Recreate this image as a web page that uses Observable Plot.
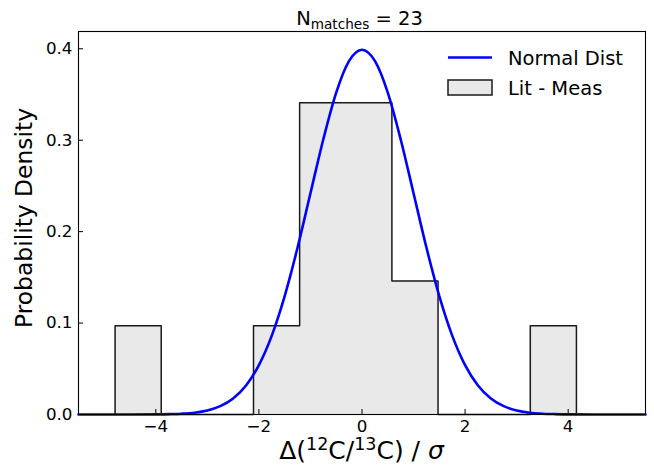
<!DOCTYPE html>
<html><head><meta charset="utf-8">
<script src="https://cdn.jsdelivr.net/npm/d3@7"></script>
<script src="https://cdn.jsdelivr.net/npm/@observablehq/plot@0.6"></script>
<style>body{margin:0;background:#fff} svg{display:block}</style>
</head><body><div id="chart"></div>
<script>
// Histogram (stepfilled, density)
const binEdges = [-4.79, -3.895, -3.0, -2.105, -1.21, -0.315, 0.58, 1.475, 2.37, 3.265, 4.16];
const binDensity = [0.097, 0, 0, 0.097, 0.341, 0.341, 0.146, 0, 0, 0.097];
const curveX = [-5.5, -5, -4.5, -4, -3.75, -3.5, -3.25, -3, -2.75, -2.5, -2.25, -2, -1.75, -1.5, -1.25, -1, -0.75, -0.5, -0.25, 0,
                0.25, 0.5, 0.75, 1, 1.25, 1.5, 1.75, 2, 2.25, 2.5, 2.75, 3, 3.25, 3.5, 3.75, 4, 4.5, 5, 5.5];
const curveY = [0, 0, 0, 0.0001, 0.0004, 0.0009, 0.0020, 0.0044, 0.0091, 0.0175, 0.0317, 0.0540, 0.0863, 0.1295, 0.1826, 0.2420, 0.3011, 0.3521, 0.3867, 0.3989,
                0.3867, 0.3521, 0.3011, 0.2420, 0.1826, 0.1295, 0.0863, 0.0540, 0.0317, 0.0175, 0.0091, 0.0044, 0.0020, 0.0009, 0.0004, 0.0001, 0, 0, 0];
const xTicks = [-4, -2, 0, 2, 4];
const yTicks = [0, 0.1, 0.2, 0.3, 0.4];
const seriesNames = ["Normal Dist", "Lit - Meas"];
const nMatches = 23;

const W = 654, H = 466, mL = 78, mR = 9, mT = 31, mB = 52;
const innerW = W - mL - mR, innerH = H - mT - mB;

const stepPts = [{x: binEdges[0], y: 0}]
  .concat(binDensity.map((d, i) => ({x: binEdges[i], y: d})))
  .concat([{x: binEdges[binEdges.length - 1], y: 0}]);
const curve = curveX.map((x, i) => ({x, y: curveY[i]}));

const svg = Plot.plot({
  width: W, height: H,
  marginLeft: mL, marginRight: mR, marginTop: mT, marginBottom: mB,
  style: {fontFamily: "DejaVu Sans", fontSize: "16px", color: "#000", background: "#fff"},
  x: {domain: [-5.5, 5.5]},
  y: {domain: [0, 0.4189]},
  marks: [
    Plot.areaY(stepPts, {x: "x", y: "y", curve: "step-after", fill: "#e9e9e9"}),
    Plot.lineY(stepPts, {x: "x", y: "y", curve: "step-after", stroke: "#1a1a1a", strokeWidth: 1.5}),
    Plot.lineY(curve, {x: "x", y: "y", curve: "monotone-x", stroke: "#0000ff", strokeWidth: 2.6}),
    Plot.frame({stroke: "#000", strokeWidth: 1.1}),
    Plot.tickX(xTicks, {x: d => d, insetTop: innerH - 5, stroke: "#000"}),
    Plot.tickY(yTicks, {y: d => d, insetRight: innerW - 5, stroke: "#000"}),
    Plot.axisX(xTicks, {tickSize: 0, tickPadding: 6, fontSize: 16.7, label: null}),
    Plot.axisY(yTicks, {tickSize: 0, tickPadding: 6, fontSize: 16.7, label: null, tickFormat: d3.format(".1f")})
  ]
});
document.getElementById("chart").appendChild(svg);

const s = d3.select(svg);
const ff = "DejaVu Sans";
// Title
const t = s.append("text").attr("x", mL + innerW / 2 - 2).attr("y", 25).attr("text-anchor", "middle")
  .attr("font-family", ff).attr("font-size", 19.5).attr("fill", "#000");
t.append("tspan").text("N");
t.append("tspan").attr("font-size", 13.6).attr("dy", 4).text("matches");
t.append("tspan").attr("dy", -4).text(" = " + nMatches);
// X label
const xl = s.append("text").attr("x", mL + innerW / 2).attr("y", 459).attr("text-anchor", "middle")
  .attr("font-family", ff).attr("font-size", 25).attr("fill", "#000");
xl.append("tspan").text("Δ(");
xl.append("tspan").attr("font-size", 17.5).attr("dy", -9).text("12");
xl.append("tspan").attr("dy", 9).text("C/");
xl.append("tspan").attr("font-size", 17.5).attr("dy", -9).text("13");
xl.append("tspan").attr("dy", 9).text("C) / ");
xl.append("tspan").attr("font-style", "italic").text("σ");
// Y label
s.append("text").attr("transform", `translate(32,218) rotate(-90)`).attr("text-anchor", "middle")
  .attr("font-family", ff).attr("font-size", 23.4).attr("fill", "#000").text("Probability Density");
// Legend
const lg = s.append("g").attr("font-family", ff).attr("font-size", 19.5).attr("fill", "#000").attr("text-anchor", "start");
lg.append("line").attr("x1", 448).attr("x2", 492).attr("y1", 57.5).attr("y2", 57.5).attr("stroke", "#0000ff").attr("stroke-width", 2.6);
lg.append("text").attr("x", 508).attr("y", 65).attr("text-anchor", "start").text(seriesNames[0]);
lg.append("rect").attr("x", 448).attr("y", 80).attr("width", 44).attr("height", 15).attr("fill", "#e9e9e9").attr("stroke", "#1a1a1a").attr("stroke-width", 1.5);
lg.append("text").attr("x", 508).attr("y", 95).attr("text-anchor", "start").text(seriesNames[1]);
</script></body></html>
